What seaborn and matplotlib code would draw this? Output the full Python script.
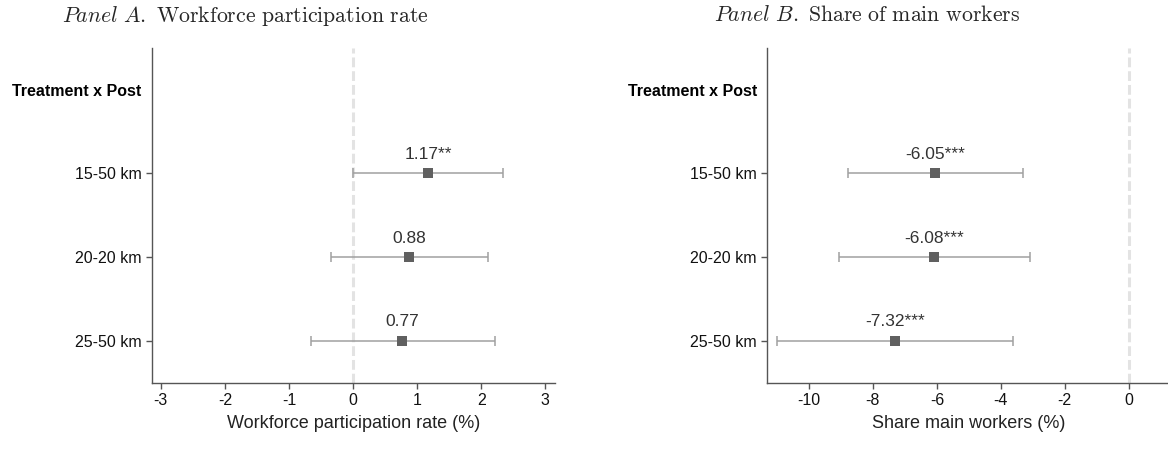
import matplotlib
matplotlib.use("Agg")
import matplotlib.pyplot as plt
import seaborn as sns
import pandas as pd

# ---- data ----
header = "Treatment x Post"
categories = ["15-50 km", "20-20 km", "25-50 km"]

coef_a = [1.17, 0.88, 0.77]
lo_a = [0.00, -0.34, -0.66]
hi_a = [2.34, 2.11, 2.21]
stars_a = ["**", "", ""]

coef_b = [-6.05, -6.08, -7.32]
lo_b = [-8.79, -9.05, -10.99]
hi_b = [-3.30, -3.08, -3.62]
stars_b = ["***", "***", "***"]

xticks_a = [-3, -2, -1, 0, 1, 2, 3]
xticks_b = [-10, -8, -6, -4, -2, 0]

sns.set_theme(style="white")
plt.rcParams["font.family"] = ["Liberation Sans", "DejaVu Sans"]
plt.rcParams["mathtext.fontset"] = "cm"

fig = plt.figure(figsize=(11.68, 4.49), dpi=100)
axA = fig.add_axes([0.130, 0.148, 0.345, 0.745])
axB = fig.add_axes([0.657, 0.148, 0.345, 0.745])

SPINE = "#555555"
MARK = "#606060"
ERR = "#a0a0a0"


def panel(ax, coef, lo, hi, stars, xlim, xticks, xlabel):
    df = pd.DataFrame({"cat": categories, "coef": coef, "lo": lo, "hi": hi,
                       "pos": list(range(1, len(categories) + 1))})
    ax.axvline(0, color="#e3e3e3", lw=2.2, ls=(0, (3.2, 1.3)), zorder=0)
    ax.errorbar(df["coef"], df["pos"],
                xerr=[df["coef"] - df["lo"], df["hi"] - df["coef"]],
                fmt="none", ecolor=ERR, elinewidth=1.1, capsize=3.5,
                capthick=1.1, zorder=2)
    sns.scatterplot(data=df, x="coef", y="pos", marker="s", s=60,
                    color=MARK, edgecolor=MARK, linewidth=0, ax=ax, zorder=3)
    for c, p, s in zip(df["coef"], df["pos"], stars):
        ax.annotate(f"{c:.2f}{s}", xy=(c, p), xytext=(0, 10.5),
                    textcoords="offset points", ha="center", va="baseline",
                    fontsize=12.5, color="#333333")
    ax.set_xlim(*xlim)
    ax.set_ylim(3.5, -0.5)
    ax.set_xticks(xticks)
    ax.set_xticklabels([str(t) for t in xticks], fontsize=11.5)
    ax.set_yticks([0] + list(df["pos"]))
    ax.set_yticklabels([header] + categories, fontsize=11.5)
    ax.set_xlabel(xlabel, fontsize=13, labelpad=5, color="#222222")
    ax.set_ylabel("")
    for side in ["top", "right"]:
        ax.spines[side].set_visible(False)
    for side in ["left", "bottom"]:
        ax.spines[side].set_color(SPINE)
        ax.spines[side].set_linewidth(1.0)
    ax.tick_params(axis="both", which="both", direction="out", length=4.5,
                   width=1.0, color=SPINE, labelcolor="#111111", pad=3,
                   bottom=True, left=True)
    ax.grid(False)
    lab0 = ax.get_yticklabels()[0]
    lab0.set_fontweight("bold")
    lab0.set_color("black")
    ax.yaxis.get_major_ticks()[0].tick1line.set_visible(False)


panel(axA, coef_a, lo_a, hi_a, stars_a, (-3.14, 3.15), xticks_a,
      "Workforce participation rate (%)")
panel(axB, coef_b, lo_b, hi_b, stars_b, (-11.30, 1.30), xticks_b,
      "Share main workers (%)")

fig.text(0.21, 0.965, r"$\mathit{Panel\ A}\mathrm{.\ Workforce\ participation\ rate}$",
         ha="center", va="center", fontsize=15.7)
fig.text(0.742, 0.965, r"$\mathit{Panel\ B}\mathrm{.\ Share\ of\ main\ workers}$",
         ha="center", va="center", fontsize=15.7)

fig.savefig("out.png", dpi=100)
